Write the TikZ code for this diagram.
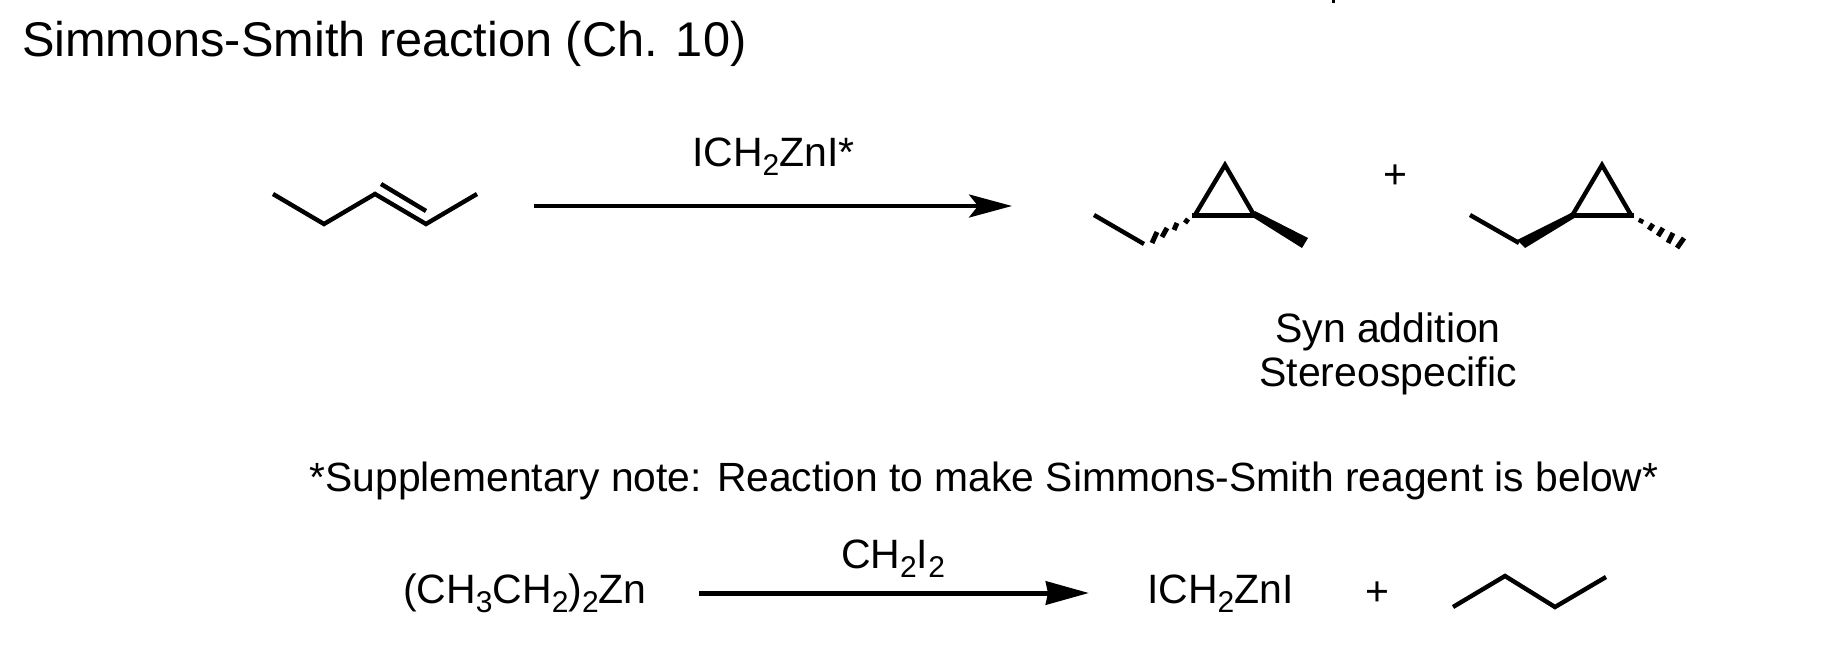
\documentclass[tikz,border=0pt]{standalone}
\usepackage{fontspec}
\setmainfont{Liberation Sans}
\usetikzlibrary{arrows.meta}
\newcommand{\lowsub}[1]{\raisebox{-0.22em}{\fontsize{30}{34}\selectfont #1}}
\tikzset{
  txt/.style={inner sep=0pt,outer sep=0pt,anchor=base west,font=\fontsize{41}{48}\selectfont},
  ttl/.style={txt,font=\fontsize{48.7}{56}\selectfont},
  ctr/.style={inner sep=0pt,outer sep=0pt,anchor=base,font=\fontsize{41}{48}\selectfont},
  bond/.style={line width=4.4pt,line cap=butt,line join=miter,black},
  hashb/.style={line width=5pt,black},
  rxn/.style={line width=4.2pt,black,-{Stealth[length=43pt,width=23pt,inset=9pt]}},
  rxnb/.style={line width=5pt,black,-{Stealth[length=43pt,width=23pt,inset=2pt]}},
}
\begin{document}
\begin{tikzpicture}[x=1pt,y=-1pt]
\useasboundingbox (0,0) rectangle (1824,648);
\fill[white] (0,0) rectangle (1824,648);
% clipped descender at top edge
\coordinate (t1) at (1333,0); \coordinate (t2) at (1333,2.5);
\draw[line width=3pt] (t1) -- (t2);
\node[ttl] (title) at (22,56) {Simmons-Smith reaction (Ch. 10)};
% pentene
\coordinate (p1) at (273,194); \coordinate (p2) at (324,224); \coordinate (p3) at (375,194);
\coordinate (p4) at (426,224); \coordinate (p5) at (477,194);
\coordinate (d1) at (381,184); \coordinate (d2) at (426,211);
\draw[bond] (p1)--(p2)--(p3)--(p4)--(p5);
\draw[bond] (d1)--(d2);
% main arrow
\coordinate (a1) at (534,206); \coordinate (a2) at (1012,206);
\draw[rxn] (a1)--(a2);
\node[txt] (reag) at (692,166) {ICH\lowsub{2}ZnI*};
% left cyclopropane
\coordinate (la) at (1225,165); \coordinate (lb) at (1195,215); \coordinate (lc) at (1254,215);
\draw[bond] (lb)--(la)--(lc);
\draw[line width=5pt] (1192,215)--(1257,215);
\fill (1255,211)--(1308,238)--(1302,248)--(1251,216)--cycle;
\coordinate (le1) at (1094,215); \coordinate (le2) at (1144,244);
\draw[bond] (le1)--(le2);
\draw[hashb] (1188,219)--(1185,223) (1177,223)--(1174,230) (1167,228)--(1162,237) (1157,232)--(1152,243);
% plus
\node[inner sep=0pt,font=\fontsize{41}{48}\selectfont] (plus1) at (1395,177) {+};
% right cyclopropane
\coordinate (ra) at (1602,165); \coordinate (rb) at (1572.5,215); \coordinate (rc) at (1631,215);
\draw[bond] (rb)--(ra)--(rc);
\draw[line width=5pt] (1570,215)--(1634,215);
\fill (1573,212)--(1517,240)--(1525,248)--(1576,217)--cycle;
\coordinate (re1) at (1470,215); \coordinate (re2) at (1519,243);
\draw[bond] (re1)--(re2);
\draw[hashb] (1642,219)--(1640,223) (1653,224)--(1649,230) (1663,228)--(1658,236) (1673,233)--(1668,243) (1684,238)--(1677,248);
% notes
\node[ctr] (syn) at (1388,342) {Syn addition};
\node[ctr] (ster) at (1388,386) {Stereospecific};
\node[ctr,font=\fontsize{40.8}{48}\selectfont] (note) at (984,491) {*Supplementary note: Reaction to make Simmons-Smith reagent is below*};
% bottom
\node[txt] (et2zn) at (403,603) {(CH\lowsub{3}CH\lowsub{2})\lowsub{2}Zn};
\coordinate (b1) at (699,593); \coordinate (b2) at (1089,593);
\draw[rxnb] (b1)--(b2);
\node[txt] (chi) at (841,568) {CH\lowsub{2}I\lowsub{2}};
\node[txt] (prod) at (1147,603) {ICH\lowsub{2}ZnI};
\node[inner sep=0pt,font=\fontsize{41}{48}\selectfont] (plus2) at (1377,594) {+};
\coordinate (u1) at (1453,607); \coordinate (u2) at (1505,576); \coordinate (u3) at (1555,607); \coordinate (u4) at (1606,577);
\draw[bond] (u1)--(u2)--(u3)--(u4);
\end{tikzpicture}
\end{document}
